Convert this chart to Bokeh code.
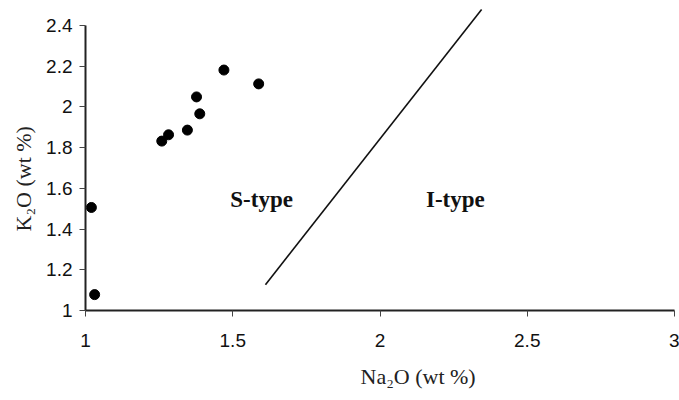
from bokeh.plotting import figure
from bokeh.models import Range1d, FixedTicker, Label, Title
from bokeh.embed import file_html
from bokeh.resources import INLINE

# Data
na2o = [1.020, 1.031, 1.259, 1.282, 1.346, 1.377, 1.388, 1.470, 1.588]
k2o = [1.506, 1.078, 1.832, 1.863, 1.886, 2.049, 1.966, 2.181, 2.113]

boundary_x = [1.611, 2.345]
boundary_y = [1.127, 2.478]

x_ticks = [1, 1.5, 2, 2.5, 3]
y_ticks = [1, 1.2, 1.4, 1.6, 1.8, 2, 2.2, 2.4]

region_labels = ["S-type", "I-type"]
region_x = [1.598, 2.256]
region_y = [1.543, 1.543]

x_title = "Na\u2082O (wt %)"
y_title = "K\u2082O (wt %)"

p = figure(width=679, height=400, output_backend="svg", toolbar_location=None,
           x_range=Range1d(1, 3), y_range=Range1d(1, 2.498),
           min_border_left=85, min_border_right=5, min_border_top=5, min_border_bottom=89)
p.outline_line_color = None
p.grid.visible = False
p.background_fill_color = "white"
p.border_fill_color = "white"

for ax in (p.xaxis[0], p.yaxis[0]):
    ax.axis_line_color = "#222222"
    ax.axis_line_width = 2
    ax.major_tick_line_color = "#444444"
    ax.major_tick_line_width = 1
    ax.major_tick_in = 0
    ax.major_tick_out = 6
    ax.minor_tick_line_color = None
    ax.major_label_text_font = "Liberation Sans"
    ax.major_label_text_font_size = "19px"
    ax.major_label_text_color = "#111111"

p.xaxis[0].ticker = FixedTicker(ticks=x_ticks)
p.yaxis[0].ticker = FixedTicker(ticks=y_ticks)
p.xaxis[0].major_label_overrides = {1: "1", 1.5: "1.5", 2: "2", 2.5: "2.5", 3: "3"}
p.yaxis[0].major_label_overrides = {1: "1", 1.2: "1.2", 1.4: "1.4", 1.6: "1.6", 1.8: "1.8",
                                    2: "2", 2.2: "2.2", 2.4: "2.4"}
p.yaxis[0].bounds = (1, 2.4)
p.xaxis[0].major_label_standoff = 17
p.yaxis[0].major_label_standoff = 7

p.line(boundary_x, boundary_y, line_color="#111111", line_width=1.6)
p.scatter(na2o, k2o, size=10, marker="circle", fill_color="black", line_color="black")

for t, x, y in zip(region_labels, region_x, region_y):
    p.add_layout(Label(x=x, y=y, text=t, text_font="Liberation Serif", text_font_style="bold",
                       text_font_size="23px", text_align="center", text_baseline="middle",
                       text_color="#111111"))

# Axis titles, placed off-centre as in the original
p.add_layout(Title(text=x_title, align="left", offset=275, standoff=24,
                   text_font="Liberation Serif", text_font_style="normal",
                   text_font_size="22px", text_color="#222222"), "below")
p.add_layout(Title(text=y_title, align="left", offset=79, standoff=15,
                   text_font="Liberation Serif", text_font_style="normal",
                   text_font_size="22px", text_color="#222222"), "left")

open("out.html", "w").write(file_html(p, INLINE))
